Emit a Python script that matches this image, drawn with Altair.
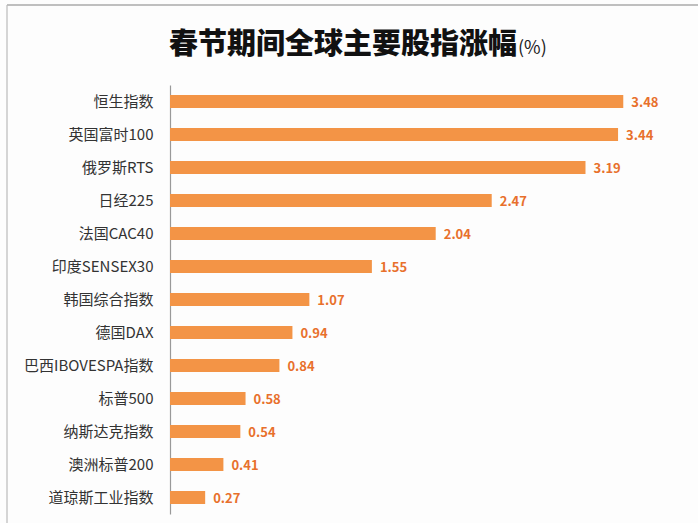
import altair as alt
import pandas as pd

names = ["恒生指数", "英国富时100", "俄罗斯RTS", "日经225", "法国CAC40", "印度SENSEX30",
         "韩国综合指数", "德国DAX", "巴西IBOVESPA指数", "标普500", "纳斯达克指数",
         "澳洲标普200", "道琼斯工业指数"]
values = [3.48, 3.44, 3.19, 2.47, 2.04, 1.55, 1.07, 0.94, 0.84, 0.58, 0.54, 0.41, 0.27]
labels = ["3.48", "3.44", "3.19", "2.47", "2.04", "1.55", "1.07", "0.94", "0.84", "0.58", "0.54", "0.41", "0.27"]

df = pd.DataFrame({"name": names, "value": values, "label": labels})

FONT = "Noto Sans CJK SC"
BAR = "#F39446"
TXT = "#E8702C"

y_enc = alt.Y("name:N", sort=names, title=None,
              scale=alt.Scale(paddingInner=0.6, paddingOuter=0.3),
              axis=alt.Axis(ticks=False, labelPadding=17, labelFontSize=15,
                            labelColor="#333333", labelFont=FONT, domainColor="#999999",
                            domainWidth=1.2, labelLimit=300))
x_enc = alt.X("value:Q", title=None, scale=alt.Scale(domain=[0, 4], nice=False),
              axis=None)

base = alt.Chart(df)
bars = base.mark_bar(color=BAR).encode(x=x_enc, y=y_enc)
texts = base.mark_text(align="left", baseline="middle", dx=8, dy=1, font=FONT,
                       fontSize=13, fontWeight="bold", color=TXT).encode(
    x=x_enc, y=alt.Y("name:N", sort=names), text="label:N")

title_df = pd.DataFrame({"t": ["春节期间全球主要股指涨幅"]})
title_main = alt.Chart(title_df).mark_text(
    align="right", baseline="alphabetic", font=FONT, fontSize=29, fontWeight=900,
    color="#111111").encode(x=alt.value(347), y=alt.value(-31), text="t:N")
unit_df = pd.DataFrame({"t": ["(%)"]})
title_unit = alt.Chart(unit_df).mark_text(
    align="left", baseline="alphabetic", font=FONT, fontSize=18,
    color="#222222").encode(x=alt.value(348), y=alt.value(-31), text="t:N")

frame_top = alt.Chart(title_df).mark_rule(color="#AAAAAA", strokeWidth=1.5).encode(
    x=alt.value(-163), x2=alt.value(528), y=alt.value(-80))
frame_left = alt.Chart(title_df).mark_rule(color="#BBBBBB", strokeWidth=1.2).encode(
    x=alt.value(-163), y=alt.value(-80), y2=alt.value(438))

chart = alt.layer(frame_top, frame_left, bars, texts, title_main, title_unit).properties(
    width=521, height=429,
    autosize=alt.AutoSizeParams(type="none"),
    padding={"left": 170, "top": 85, "right": 7, "bottom": 9},
    background="#FDFDFD",
).configure_view(stroke=None)

chart.save("out.html", embed_options={"renderer": "svg", "actions": False})
